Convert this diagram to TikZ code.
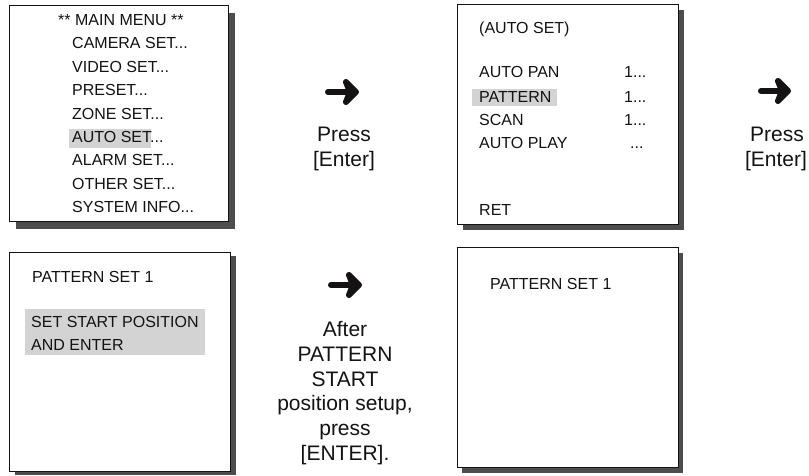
\documentclass[tikz,border=0pt]{standalone}
\usepackage{fontspec}
\setmainfont{Liberation Sans}
\usetikzlibrary{shadows}
\definecolor{shadowgray}{HTML}{4D4D4D}
\definecolor{hlgray}{HTML}{D3D3D3}
\definecolor{ink}{HTML}{141213}
\begin{document}
\begin{tikzpicture}[x=1pt,y=-1pt,
  screen/.style={draw=ink, line width=0.9pt, fill=white, inner sep=0pt, anchor=north west},
  menu/.style={font=\fontsize{16}{19}\selectfont, text=ink, inner sep=0pt, anchor=base west},
  lbl/.style={font=\fontsize{21}{24}\selectfont, text=ink, inner sep=0pt, anchor=base},
  fatshaft/.style={draw=ink, line width=6pt, line cap=round},
  fathead/.style={draw=ink, fill=ink, line width=6pt, line join=round},
  hl/.style={fill=hlgray}]
\useasboundingbox (0,0) rectangle (809,476);

% screens
\node[screen, minimum width=219pt, minimum height=216pt,
  drop shadow={shadow xshift=7pt, shadow yshift=-8pt, fill=shadowgray, opacity=1}] (b1) at (9,5) {};
\node[screen, minimum width=221pt, minimum height=220pt,
  drop shadow={shadow xshift=6pt, shadow yshift=-6pt, fill=shadowgray, opacity=1}] (b2) at (457,4) {};
\node[screen, minimum width=221pt, minimum height=219pt,
  drop shadow={shadow xshift=6pt, shadow yshift=-4pt, fill=shadowgray, opacity=1}] (b3) at (9,252) {};
\node[screen, minimum width=221pt, minimum height=220pt,
  drop shadow={shadow xshift=5pt, shadow yshift=-6pt, fill=shadowgray, opacity=1}] (b4) at (457,247) {};

% highlights
\fill[hl] (69,129) rectangle (151,148);
\fill[hl] (472,89) rectangle (557,106);
\fill[hl] (25,309) rectangle (205,355);

% main menu
\node[menu] (mt) at (58,25.7) {** MAIN MENU **};
\node[menu] (m1) at (72,49.0) {CAMERA SET...};
\node[menu] (m2) at (72,72.4) {VIDEO SET...};
\node[menu] (m3) at (72,95.8) {PRESET...};
\node[menu] (m4) at (72,119.2) {ZONE SET...};
\node[menu] (m5) at (72,142.6) {AUTO SET...};
\node[menu] (m6) at (72,166.0) {ALARM SET...};
\node[menu] (m7) at (72,189.4) {OTHER SET...};
\node[menu] (m8) at (72,212.8) {SYSTEM INFO...};

% auto set menu
\node[menu] (at) at (479,34) {(AUTO SET)};
\node[menu] (a1) at (479,77.5) {AUTO PAN};
\node[menu] (a2) at (479,102.5) {PATTERN};
\node[menu] (a3) at (479,125.5) {SCAN};
\node[menu] (a4) at (479,149) {AUTO PLAY};
\node[menu] (a5) at (479,215) {RET};
\node[menu] (v1) at (624,77.5) {1...};
\node[menu] (v2) at (624,102.5) {1...};
\node[menu] (v3) at (624,125.5) {1...};
\node[menu] (v4) at (630,149) {...};

% pattern set screens
\node[menu] (p1) at (32,282.7) {PATTERN SET 1};
\node[menu] (p2) at (31,327.3) {SET START POSITION};
\node[menu] (p3) at (31,350.7) {AND ENTER};
\node[menu] (q1) at (490,289) {PATTERN SET 1};

% arrows (tip coordinates are the stroke centres; strokes add 3pt)
\coordinate (a1s) at (328,92);
\coordinate (a1e) at (356,92);
\coordinate (a2s) at (761,91);
\coordinate (a2e) at (788,91);
\coordinate (a3s) at (331,285);
\coordinate (a3e) at (359,285);
\foreach \s/\e in {a1s/a1e, a2s/a2e, a3s/a3e}{
  \draw[fatshaft] (\s) -- ([xshift=-3pt]\e);
  \filldraw[fathead] ([shift={(-10,-10)}]\e) -- (\e) -- ([shift={(-10,10)}]\e) -- ([xshift=-6pt]\e) -- cycle;
}

% labels
\node[lbl] (l1a) at (344,141.7) {Press};
\node[lbl] (l1b) at (344,166.7) {[Enter]};
\node[lbl] (l2a) at (777,141.7) {Press};
\node[lbl] (l2b) at (776,166.7) {[Enter]};
\node[lbl] (l3a) at (345,336.7) {After};
\node[lbl] (l3b) at (345,361.3) {PATTERN};
\node[lbl] (l3c) at (345,386) {START};
\node[lbl] (l3d) at (345,410.5) {position setup,};
\node[lbl] (l3e) at (345,435) {press};
\node[lbl] (l3f) at (345,460) {[ENTER].};
\end{tikzpicture}
\end{document}
